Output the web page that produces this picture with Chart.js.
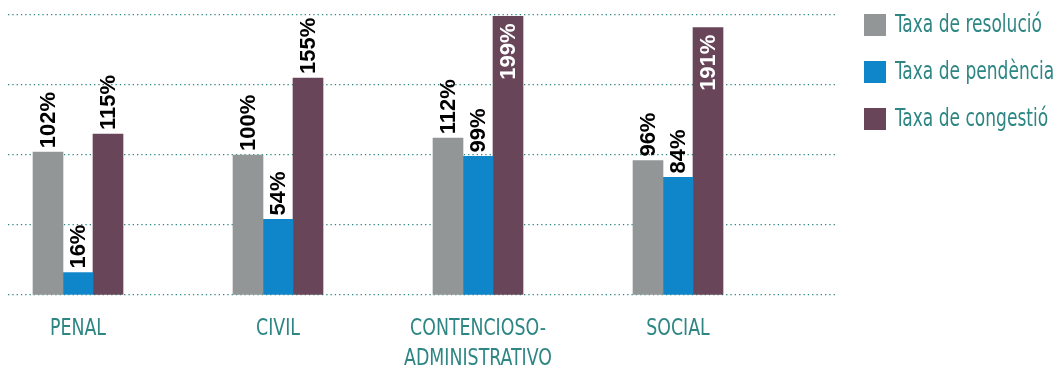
<!DOCTYPE html>
<html>
<head>
<meta charset="utf-8">
<title>Taxes</title>
<script src="https://cdn.jsdelivr.net/npm/chart.js@4.4.1/dist/chart.umd.min.js"></script>
<style>
  html, body { margin: 0; padding: 0; background: #fff; }
  #wrap { width: 1056px; height: 366px; }
</style>
</head>
<body>
<div id="wrap"><canvas id="myChart" width="1056" height="366"></canvas></div>
<script>
// jurisdiccions i taxes (%)
const categories = ['PENAL', 'CIVIL', ['CONTENCIOSO-', 'ADMINISTRATIVO'], 'SOCIAL'];
const resolucio = [102, 100, 112, 96];
const pendencia = [16, 54, 99, 84];
const congestio = [115, 155, 199, 191];
const seriesNames = ['Taxa de resolució', 'Taxa de pendència', 'Taxa de congestió'];
const seriesColors = ['#929696', '#0f86c9', '#684559'];
const yTicks = [0, 50, 100, 150, 200];

const teal = '#2d8683';
const narrow = '"Liberation Sans Narrow", "DejaVu Sans Condensed", "DejaVu Sans", sans-serif';

function toPoints(values) {
  return values.map((v, i) => ({ x: i, y: v }));
}

// text estret: s'escala en horitzontal
function narrowText(ctx, text, x, y, align, sx) {
  ctx.save();
  ctx.translate(x, y);
  ctx.scale(sx, 1);
  ctx.textAlign = align;
  ctx.fillText(text, 0, 0);
  ctx.restore();
}

// etiquetes de valor girades sobre cada barra
const barLabels = {
  id: 'barLabels',
  afterDatasetsDraw(chart) {
    const ctx = chart.ctx;
    const top = chart.chartArea.top;
    ctx.save();
    ctx.font = 'bold 22px "Liberation Sans", Arial, sans-serif';
    ctx.textBaseline = 'middle';
    chart.data.datasets.forEach((ds, di) => {
      chart.getDatasetMeta(di).data.forEach((bar, i) => {
        const text = ds.data[i].y + '%';
        const w = ctx.measureText(text).width;
        const inside = bar.y - 4 - w < top - 6;
        ctx.save();
        ctx.translate(bar.x, bar.y);
        ctx.rotate(-Math.PI / 2);
        ctx.fillStyle = inside ? '#ffffff' : '#000000';
        ctx.textAlign = inside ? 'right' : 'left';
        ctx.fillText(text, inside ? -7 : 4, 1);
        ctx.restore();
      });
    });
    ctx.restore();
  }
};

// noms de jurisdicció sota l'eix
const categoryLabels = {
  id: 'categoryLabels',
  afterDraw(chart) {
    const ctx = chart.ctx;
    const xs = chart.scales.x;
    const base = chart.chartArea.bottom;
    ctx.save();
    ctx.font = '23px ' + narrow;
    ctx.fillStyle = teal;
    ctx.textBaseline = 'alphabetic';
    categories.forEach((c, i) => {
      const lines = Array.isArray(c) ? c : [c];
      const x = xs.getPixelForValue(i);
      lines.forEach((line, j) => {
        narrowText(ctx, line, x, base + 40 + j * 29.5, 'center', 0.84);
      });
    });
    ctx.restore();
  }
};

// llegenda a la dreta
const sideLegend = {
  id: 'sideLegend',
  afterDraw(chart) {
    const ctx = chart.ctx;
    const x0 = chart.chartArea.right + 28;
    ctx.save();
    ctx.font = '24px ' + narrow;
    ctx.textBaseline = 'middle';
    seriesNames.forEach((name, k) => {
      const y = 14 + k * 47;
      ctx.fillStyle = seriesColors[k];
      ctx.fillRect(x0, y, 22, 22);
      ctx.fillStyle = teal;
      narrowText(ctx, name, x0 + 31, y + 12, 'left', 0.79);
    });
    ctx.restore();
  }
};

document.addEventListener('DOMContentLoaded', function() {
  const ctx = document.getElementById('myChart').getContext('2d');
  const series = [resolucio, pendencia, congestio];

  new Chart(ctx, {
    type: 'bar',
    data: {
      datasets: series.map((vals, k) => ({
        label: seriesNames[k],
        data: toPoints(vals),
        backgroundColor: seriesColors[k],
        barThickness: 30,
        borderWidth: 0
      }))
    },
    options: {
      responsive: false,
      animation: false,
      layout: { padding: { top: 15, left: 8, right: 220, bottom: 0 } },
      scales: {
        x: {
          type: 'linear',
          min: -0.35,
          max: 3.79,
          offset: false,
          grid: { display: false },
          border: { display: false },
          afterFit: s => { s.height = 71; },
          ticks: { display: false }
        },
        y: {
          min: 0,
          max: 200,
          afterBuildTicks: s => { s.ticks = yTicks.map(v => ({ value: v })); },
          grid: { color: teal, lineWidth: 1.3, drawTicks: false },
          border: { display: false, dash: [1.3, 3] },
          ticks: { display: false }
        }
      },
      plugins: {
        legend: { display: false },
        tooltip: { enabled: false }
      }
    },
    plugins: [barLabels, categoryLabels, sideLegend]
  });
});
</script>
</body>
</html>
